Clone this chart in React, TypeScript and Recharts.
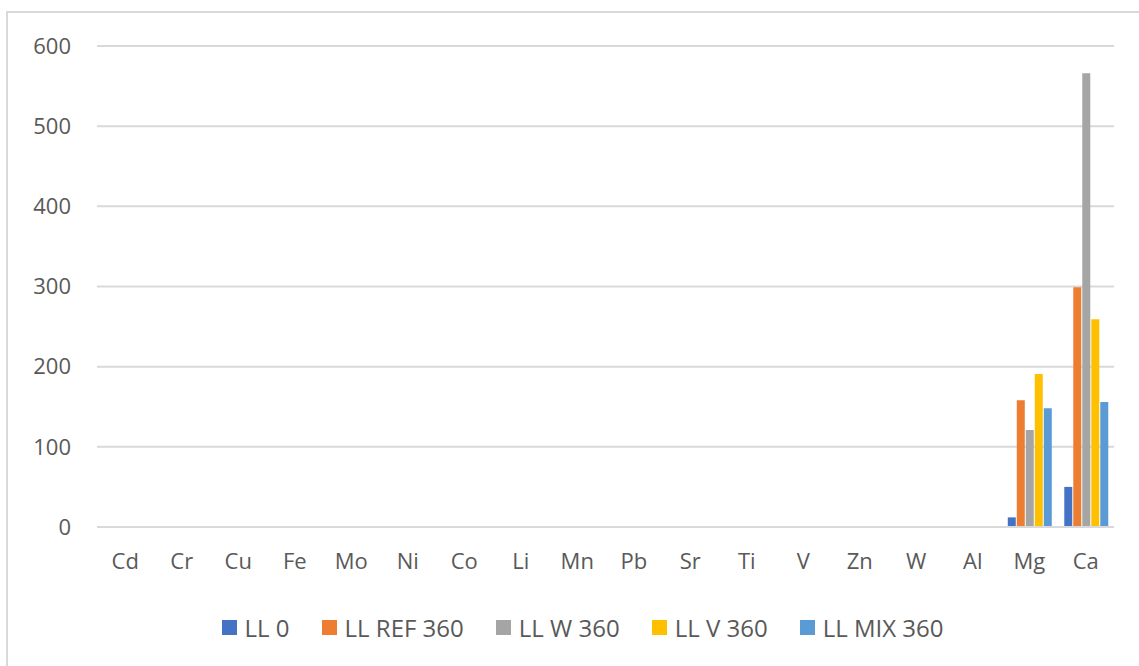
import { BarChart, Bar, XAxis, YAxis, CartesianGrid, Legend } from "recharts";

const elements = ["Cd", "Cr", "Cu", "Fe", "Mo", "Ni", "Co", "Li", "Mn", "Pb", "Sr", "Ti", "V", "Zn", "W", "Al", "Mg", "Ca"];

const ll0 = [0, 0, 0, 0, 0, 0, 0, 0, 0, 0, 0, 0, 0, 0, 0, 0, 12, 50];
const llRef360 = [0, 0, 0, 0, 0, 0, 0, 0, 0, 0, 0, 0, 0, 0, 0, 0, 158, 299];
const llW360 = [0, 0, 0, 0, 0, 0, 0, 0, 0, 0, 0, 0, 0, 0, 0, 0, 121, 566];
const llV360 = [0, 0, 0, 0, 0, 0, 0, 0, 0, 0, 0, 0, 0, 0, 0, 0, 191, 259];
const llMix360 = [0, 0, 0, 0, 0, 0, 0, 0, 0, 0, 0, 0, 0, 0, 0, 0, 148, 156];

const yTicks = [0, 100, 200, 300, 400, 500, 600];

const series = [
  { key: "ll0", name: "LL 0", color: "#4472C4", values: ll0 },
  { key: "llRef", name: "LL REF 360", color: "#ED7D31", values: llRef360 },
  { key: "llW", name: "LL W 360", color: "#A5A5A5", values: llW360 },
  { key: "llV", name: "LL V 360", color: "#FFC000", values: llV360 },
  { key: "llMix", name: "LL MIX 360", color: "#5B9BD5", values: llMix360 },
];

const data = elements.map((el, i) => {
  const row: Record<string, string | number> = { name: el };
  series.forEach((s) => (row[s.key] = s.values[i]));
  return row;
});

const FONT = "'Open Sans', sans-serif";
const TEXT = "#595959";

const renderLegend = () => (
  <div
    style={{
      display: "flex",
      justifyContent: "center",
      paddingLeft: 44,
      fontFamily: FONT,
      fontSize: 24,
      color: TEXT,
      height: 30,
      alignItems: "center",
    }}
  >
    {series.map((s) => (
      <div key={s.key} style={{ display: "flex", alignItems: "center", margin: "0 16px" }}>
        <span style={{ width: 15, height: 15, background: s.color, display: "inline-block", marginRight: 8 }} />
        <span>{s.name}</span>
      </div>
    ))}
  </div>
);

export default function App() {
  return (
    <div style={{ position: "absolute", left: 0, top: 0, width: 1139, height: 666, overflow: "hidden", background: "#fff" }}>
      <div
        style={{
          position: "absolute",
          left: 6,
          top: 11,
          width: 1200,
          height: 700,
          border: "2px solid #D9D9D9",
        }}
      />
      <BarChart
        width={1139}
        height={666}
        data={data}
        margin={{ top: 46, right: 25, bottom: 24, left: 7 }}
        barCategoryGap="12%"
        barGap={1}
      >
        <CartesianGrid vertical={false} stroke="#D9D9D9" strokeWidth={2} />
        <XAxis
          dataKey="name"
          axisLine={{ stroke: "#D9D9D9", strokeWidth: 2 }}
          tickLine={false}
          tickMargin={20}
          height={85}
          interval={0}
          tick={{ fill: TEXT, fontSize: 22, fontFamily: FONT }}
        />
        <YAxis
          domain={[0, 600]}
          ticks={yTicks}
          axisLine={false}
          tickLine={false}
          tickMargin={20}
          width={90}
          tick={{ fill: TEXT, fontSize: 22, fontFamily: FONT }}
        />
        <Legend verticalAlign="bottom" content={renderLegend} />
        {series.map((s) => (
          <Bar key={s.key} dataKey={s.key} name={s.name} fill={s.color} isAnimationActive={false} />
        ))}
      </BarChart>
    </div>
  );
}
